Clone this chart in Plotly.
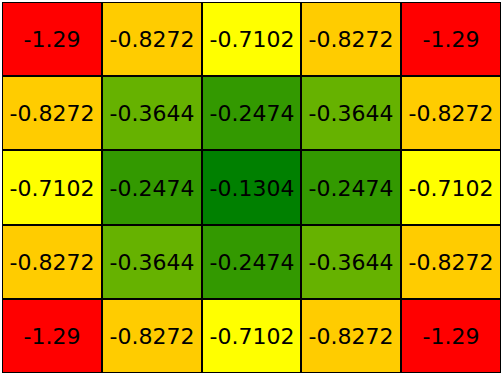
import plotly.graph_objects as go

values = [
    [-1.29, -0.8272, -0.7102, -0.8272, -1.29],
    [-0.8272, -0.3644, -0.2474, -0.3644, -0.8272],
    [-0.7102, -0.2474, -0.1304, -0.2474, -0.7102],
    [-0.8272, -0.3644, -0.2474, -0.3644, -0.8272],
    [-1.29, -0.8272, -0.7102, -0.8272, -1.29],
]
levels = [-1.29, -0.8272, -0.7102, -0.3644, -0.2474, -0.1304]
level_colors = ["#ff0000", "#ffcc00", "#ffff00", "#66b200", "#339900", "#008000"]

n = len(levels)
z_idx = [[levels.index(v) for v in row] for row in values]
text = [[f"{v:g}" for v in row] for row in values]

colorscale = []
for i, c in enumerate(level_colors):
    colorscale.append([i / n, c])
    colorscale.append([(i + 1) / n, c])

fig = go.Figure(go.Heatmap(
    z=z_idx,
    text=text,
    texttemplate="%{text}",
    textfont=dict(family="DejaVu Sans", size=22, color="black"),
    colorscale=colorscale,
    zmin=-0.5,
    zmax=n - 0.5,
    showscale=False,
    xgap=2,
    ygap=2,
    hoverinfo="skip",
))
fig.update_xaxes(visible=False, showgrid=False, zeroline=False)
fig.update_yaxes(visible=False, showgrid=False, zeroline=False, autorange="reversed")
fig.update_layout(
    width=503,
    height=375,
    margin=dict(l=2, r=2, t=2, b=2),
    plot_bgcolor="black",
    paper_bgcolor="white",
)
fig.write_html(
    "out.html",
    config={"displayModeBar": False},
    post_script="document.body.style.margin='0';document.body.style.overflow='hidden';",
)
